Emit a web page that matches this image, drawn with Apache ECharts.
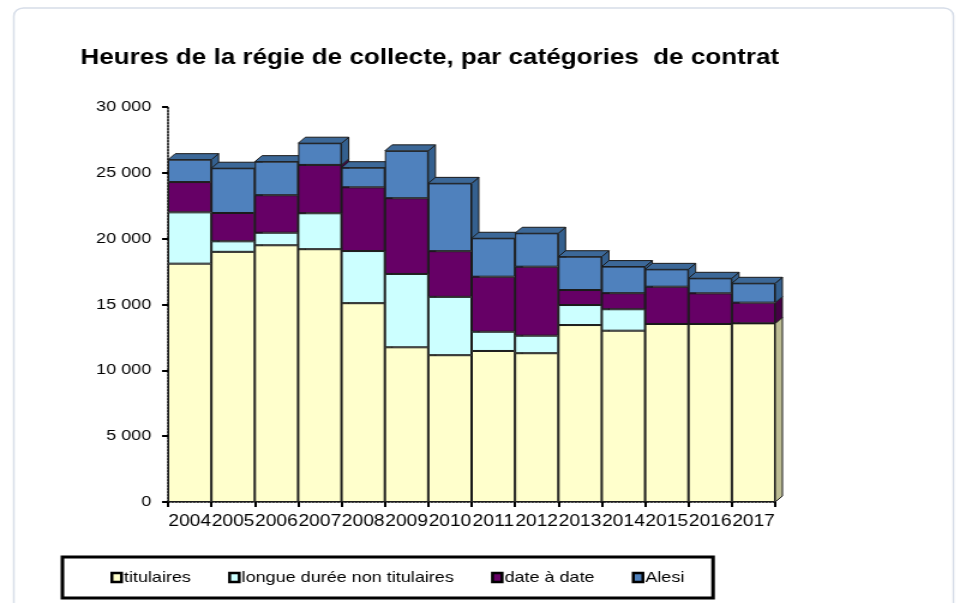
<!DOCTYPE html>
<html>
	<head>
		<meta charset="utf-8">
		<script src="https://cdn.jsdelivr.net/npm/echarts@6/dist/echarts.min.js"></script>
		<title>Heures de la régie de collecte</title>
		<style>
			html,
			body {
				margin: 0;
				overflow: hidden;
				background: #fff;
			}
			/* le graphique d'origine est étiré horizontalement (~1.2) */
			#main {
				width: 799px;
				height: 603px;
				transform: scaleX(1.2);
				transform-origin: 0 0;
			}
		</style>
	</head>
	<body>
		<div id="main"></div>
		<script type="text/javascript">
			// données
			var annees = ['2004', '2005', '2006', '2007', '2008', '2009', '2010', '2011', '2012', '2013', '2014', '2015', '2016', '2017'];
			var titulaires = [18100, 19000, 19500, 19200, 15100, 11750, 11150, 11470, 11300, 13440, 13010, 13520, 13520, 13570];
			var longueDuree = [3900, 800, 950, 2730, 3960, 5570, 4430, 1460, 1330, 1520, 1630, 0, 0, 0];
			var dateADate = [2300, 2150, 2850, 3670, 4840, 5750, 3470, 4180, 5240, 1140, 1220, 2830, 2330, 1570];
			var alesi = [1700, 3400, 2550, 1650, 1490, 3600, 5150, 2920, 2540, 2530, 2020, 1320, 1140, 1470];

			var noms = ['titulaires', 'longue durée non titulaires', 'date à date', 'Alesi'];
			var couleurs = ['#FFFFCC', '#CCFFFF', '#660066', '#4F81BD'];
			var couleursCote = ['#BDBD94', '#8FB8B8', '#460046', '#34608F'];
			var couleurDessus = '#3C6898';
			var series = [titulaires, longueDuree, dateADate, alesi];

			var police = '"Liberation Sans", Arial, sans-serif';
			var dx = 6, dy = 6;

			function milliers(v) {
				var s = String(v);
				return s.replace(/\B(?=(\d{3})+(?!\d))/g, ' ');
			}

			// faces 3D (dessus + côté), dessinées sous les barres
			function relief(params, api) {
				var i = params.dataIndex;
				var largeur = api.size([1, 0])[0];
				var xc = api.coord([i, 0])[0];
				var xl = xc - largeur / 2, xr = xc + largeur / 2;
				var enfants = [];
				var cumul = 0;
				for (var k = 0; k < series.length; k++) {
					var v = series[k][i];
					if (!v) continue;
					var yb = api.coord([i, cumul])[1];
					var yt = api.coord([i, cumul + v])[1];
					enfants.push({
						type: 'polygon',
						shape: { points: [[xr, yt], [xr + dx, yt - dy], [xr + dx, yb - dy], [xr, yb]] },
						style: { fill: couleursCote[k], stroke: '#1a1a1a', lineWidth: 1 }
					});
					cumul += v;
				}
				var yTop = api.coord([i, cumul])[1];
				enfants.push({
					type: 'polygon',
					shape: { points: [[xl, yTop], [xl + dx, yTop - dy], [xr + dx, yTop - dy], [xr, yTop]] },
					style: { fill: couleurDessus, stroke: '#1a1a1a', lineWidth: 1 }
				});
				return { type: 'group', children: enfants };
			}

			var myChart = echarts.init(document.getElementById('main'));

			var barres = noms.map(function(nom, k) {
				return {
					name: nom,
					type: 'bar',
					stack: 'total',
					barCategoryGap: '0%',
					z: 3,
					itemStyle: {
						color: couleurs[k],
						borderColor: '#1a1a1a',
						borderWidth: 1
					},
					data: series[k]
				};
			});

			barres.push({
				name: 'relief',
				type: 'custom',
				z: 1,
				silent: true,
				renderItem: relief,
				data: annees.map(function(a, i) {
					return [i, titulaires[i] + longueDuree[i] + dateADate[i] + alesi[i]];
				})
			});

			var option = {
				animation: false,
				textStyle: { fontFamily: police },
				title: {
					text: 'Heures de la régie de collecte, par catégories  de contrat',
					left: 62,
					top: 42,
					textStyle: { fontSize: 21.7, fontWeight: 'bold', color: '#000', fontFamily: police }
				},
				graphic: [{
					type: 'rect',
					shape: { x: 11.5, y: 8, width: 783, height: 700, r: 8 },
					style: { fill: 'none', stroke: '#D6DDE8', lineWidth: 1.5 },
					silent: true
				}],
				legend: {
					data: noms,
					left: 52,
					top: 557,
					orient: 'horizontal',
					padding: [13, 24, 13, 40],
					itemGap: 31,
					itemWidth: 8,
					itemHeight: 9,
					icon: 'rect',
					borderColor: '#000',
					borderWidth: 3,
					itemStyle: { borderColor: '#000', borderWidth: 2.5 },
					textStyle: { fontSize: 15, color: '#000', fontFamily: police, padding: [0, 0, 0, -3] }
				},
				grid: {
					left: 140,
					right: 153,
					top: 107,
					bottom: 101
				},
				xAxis: {
					type: 'category',
					data: annees,
					axisLine: { lineStyle: { color: '#000', width: 1.5, type: 'dotted' } },
					axisTick: { show: true, length: 5, lineStyle: { color: '#000', width: 2 } },
					axisLabel: { interval: 0, fontSize: 16, color: '#000', margin: 12, fontFamily: police }
				},
				yAxis: {
					type: 'value',
					min: 0,
					max: 30000,
					interval: 5000,
					axisLine: { show: true, lineStyle: { color: '#000', width: 1.5, type: 'dotted' } },
					axisTick: { show: true, length: 5, lineStyle: { color: '#000', width: 2 } },
					splitLine: { show: false },
					axisLabel: { fontSize: 15, color: '#000', margin: 14, fontFamily: police, formatter: milliers }
				},
				series: barres
			};

			myChart.setOption(option);

			window.onresize = function() {
				myChart.resize();
			}
		</script>
	</body>
</html>
